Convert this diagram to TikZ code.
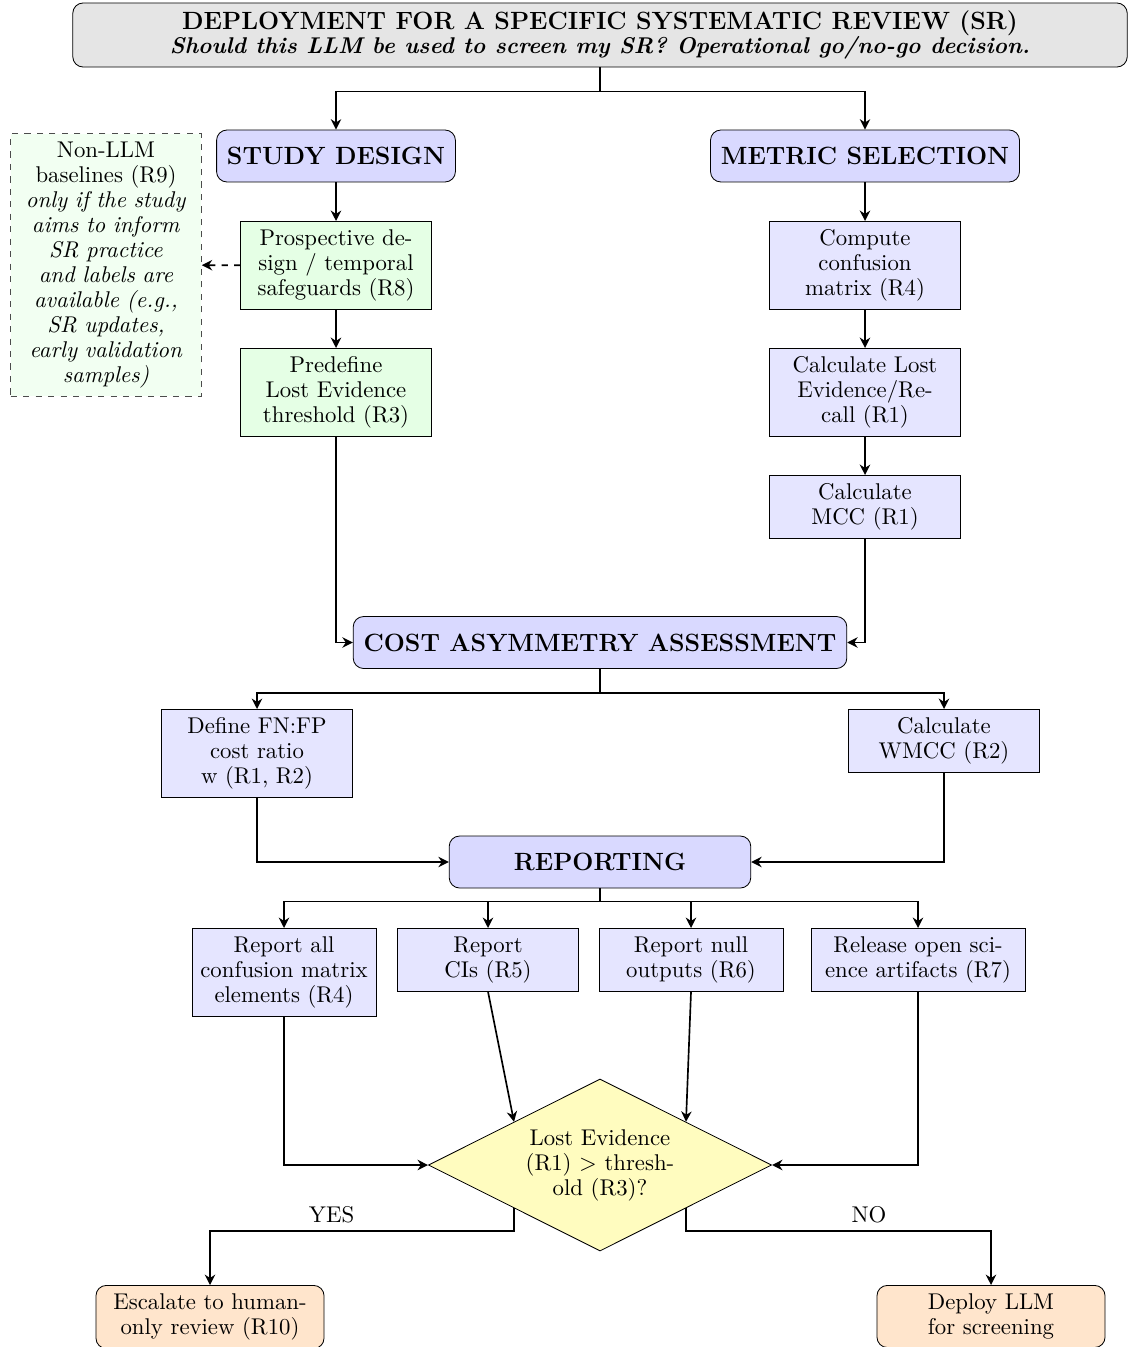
\documentclass[tikz,border=0pt]{standalone}
\usepackage{tikz}
\usetikzlibrary{arrows.meta,shapes}
\newcommand{\boxfont}{\fontsize{10.95}{12}\selectfont}
\tikzset{
	>={Stealth[length=5pt, width=5pt]},
	flow/.style={draw=black, thick, ->},
	dashflow/.style={draw=black, thick, dashed, ->},
	titlebox/.style={draw, rounded corners=5pt, fill=gray!20, align=center,
		minimum width=507pt, minimum height=30.8pt},
	phasebox/.style={draw, rounded corners=5pt, fill=blue!15, font=\large\bfseries,
		minimum height=25pt, inner xsep=5pt},
	greenbox/.style={draw, fill=green!10, text width=85pt, align=center, inner ysep=4pt},
	bluebox/.style={draw, fill=blue!10, text width=85pt, align=center, inner ysep=4pt},
	notebox/.style={draw=black!70, dashed, fill=green!5, text width=85pt, align=center, inner ysep=4pt},
	decisionbox/.style={diamond, draw, fill=yellow!25, aspect=2, text width=75pt, align=center,
		inner sep=1pt, minimum width=165pt, minimum height=82.7pt},
	outcomebox/.style={draw, rounded corners=5pt, fill=orange!20, text width=103pt, align=center, inner ysep=4pt},
}

\begin{document}
\begin{tikzpicture}[x=0.4808pt, y=-0.4808pt, font=\boxfont]
	\useasboundingbox (0,0) rectangle (1129,1347);
	% header and the two branches
	\node[titlebox] (title) at (600,35) {{\large\bfseries DEPLOYMENT FOR A SPECIFIC SYSTEMATIC REVIEW (SR)}\\
		\textbf{\textit{Should this LLM be used to screen my SR? Operational go/no-go decision.}}};
	\node[phasebox] (design) at (336,156) {STUDY DESIGN};
	\node[phasebox] (metrics) at (865,156) {METRIC SELECTION};

	\node[greenbox, anchor=north] (prosp) at (336,221) {Prospective de-\\sign / temporal\\safeguards (R8)};
	\node[greenbox, anchor=north] (thresh) at (336,348) {Predefine\\Lost Evidence\\threshold (R3)};
	\node[notebox] (baseline) at (106,265) {Non-LLM\\baselines (R9)\\\textit{only if the study}\\
		\textit{aims to inform}\\\textit{SR practice}\\\textit{and labels are}\\\textit{available (e.g.,}\\
		\textit{SR updates,}\\\textit{early validation}\\\textit{samples)}};

	\node[bluebox, anchor=north] (confmat) at (865,221) {Compute\\confusion\\matrix (R4)};
	\node[bluebox, anchor=north] (lostev) at (865,348) {Calculate Lost\\Evidence/Re-\\call (R1)};
	\node[bluebox, anchor=north] (mcc) at (865,475) {Calculate\\MCC (R1)};

	% cost asymmetry
	\node[phasebox, minimum width=237pt] (cost) at (600,642.5) {COST ASYMMETRY ASSESSMENT};
	\node[bluebox, anchor=north] (ratio) at (257,709) {Define FN:FP\\cost ratio\\w (R1, R2)};
	\node[bluebox, anchor=north] (wmcc) at (944,709) {Calculate\\WMCC (R2)};

	% reporting
	\node[phasebox, minimum width=145pt] (report) at (600,862) {REPORTING};
	\node[bluebox, text width=81.8pt, anchor=north] (repcm) at (284,928) {Report all\\confusion matrix\\elements (R4)};
	\node[bluebox, text width=80.4pt, anchor=north] (repci) at (488,928) {Report\\CIs (R5)};
	\node[bluebox, text width=81.8pt, anchor=north] (repnull) at (691,928) {Report null\\outputs (R6)};
	\node[bluebox, text width=96.2pt, anchor=north] (release) at (918,928) {Release open sci-\\ence artifacts (R7)};

	% decision
	\node[decisionbox] (decide) at (600,1165) {Lost Evidence\\(R1) $>$ thresh-\\old (R3)?};
	\node[outcomebox, anchor=north] (escalate) at (210,1285) {Escalate to human-\\only review (R10)};
	\node[outcomebox, anchor=north] (deploy) at (991,1285) {Deploy LLM\\for screening};

	\draw[flow] (title.south) -- ++(0,24) -| (design.north);
	\draw[flow] (title.south) -- ++(0,24) -| (metrics.north);
	\draw[flow] (design) -- (prosp);
	\draw[flow] (prosp) -- (thresh);
	\draw[dashflow] (prosp) -- (baseline);
	\draw[flow] (metrics) -- (confmat);
	\draw[flow] (confmat) -- (lostev);
	\draw[flow] (lostev) -- (mcc);
	\draw[flow] (thresh) |- (cost);
	\draw[flow] (mcc) |- (cost);
	\draw[flow] (cost.south) -- ++(0,24) -| (ratio.north);
	\draw[flow] (cost.south) -- ++(0,24) -| (wmcc.north);
	\draw[flow] (ratio) |- (report);
	\draw[flow] (wmcc) |- (report);
	\foreach \r in {repcm,repci,repnull,release}
		\draw[flow] (report.south) -- ++(0,13) -| (\r.north);
	\draw[flow] (repcm) |- (decide);
	\draw[flow] (repci.south) -- (decide.north west);
	\draw[flow] (repnull.south) -- (decide.north east);
	\draw[flow] (release) |- (decide);
	\draw[flow] (decide.south west) -- ++(0,23) -| node[pos=0.3, above] {YES} (escalate.north);
	\draw[flow] (decide.south east) -- ++(0,23) -| node[pos=0.3, above] {NO} (deploy.north);
\end{tikzpicture}
\end{document}
